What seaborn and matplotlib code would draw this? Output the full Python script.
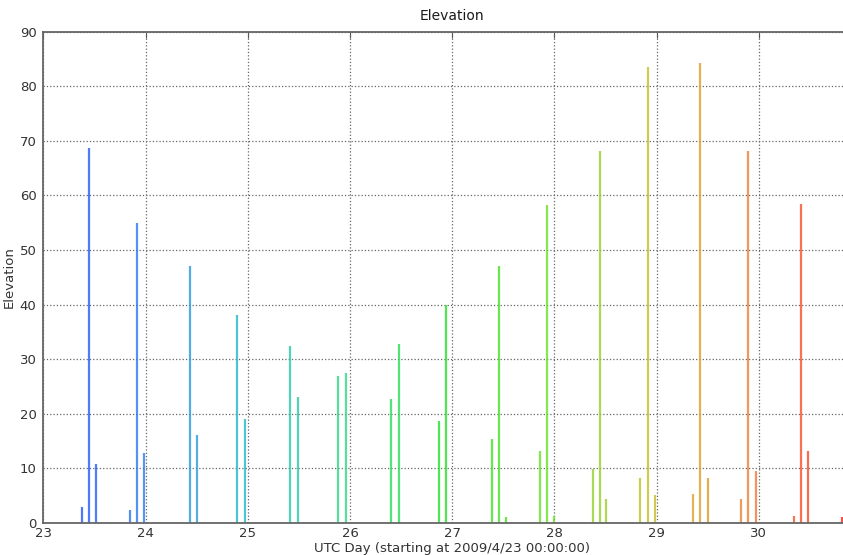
import matplotlib
matplotlib.use('Agg')
import numpy as np
import pandas as pd
import seaborn as sns
import matplotlib.pyplot as plt
from matplotlib.colors import LinearSegmentedColormap, Normalize

# pass peak times (UTC day of April 2009) and peak elevations
pass_day = [
    23.376, 23.447, 23.513, 23.845, 23.917, 23.988,
    24.435, 24.501, 24.898, 24.974,
    25.414, 25.489, 25.886, 25.959,
    26.402, 26.478, 26.872, 26.943,
    27.390, 27.459, 27.527, 27.857, 27.929, 27.997,
    28.376, 28.444, 28.509, 28.841, 28.914, 28.985,
    29.360, 29.429, 29.501, 29.830, 29.898, 29.974,
    30.345, 30.414, 30.482, 30.815,
]
pass_elev = [
    3.0, 68.6, 10.8, 2.4, 55.0, 12.8,
    47.1, 16.2, 38.0, 19.0,
    32.4, 23.1, 26.9, 27.4,
    22.7, 32.8, 18.7, 39.9,
    15.3, 47.1, 1.15, 13.1, 58.2, 1.3,
    9.8, 68.1, 4.45, 8.3, 83.6, 5.1,
    5.3, 84.2, 8.3, 4.3, 68.2, 9.6,
    1.35, 58.4, 13.1, 1.05,
]
x_ticks = [23, 24, 25, 26, 27, 28, 29, 30]
y_ticks = [0, 10, 20, 30, 40, 50, 60, 70, 80, 90]

df = pd.DataFrame({'day': pass_day, 'elevation': pass_elev})

sns.set_style('white')
plt.rcParams['font.family'] = ['DejaVu Sans']

fig = plt.figure(figsize=(8.43, 5.55), dpi=100)
ax = fig.add_axes([0.0514, 0.0577, 0.9699, 0.8854])

# rainbow running from blue (day 23) to red (day 31)
cmap = LinearSegmentedColormap.from_list('passes', [
    '#1840ff', '#2f7cf0', '#1fbcc4', '#2ed880', '#22e022',
    '#70e028', '#c8bc28', '#f07830', '#ff1818'])
norm = Normalize(vmin=23, vmax=31)
colors = [cmap(norm(d)) for d in df['day']]

ax.vlines(df['day'], 0, df['elevation'], colors=colors, linewidth=1.6, alpha=0.8)

ax.set_xlim(23, 31)
ax.set_ylim(0, 90)
ax.set_xticks(x_ticks)
ax.set_yticks(y_ticks)
ax.grid(True, color='0.4', linestyle=':', linewidth=0.9)
ax.tick_params(direction='in', top=True, right=True, length=4, width=0.8,
               labelsize=9.5, labelcolor='0.2', color='0.35')
ax.tick_params(axis='y', pad=5)
ax.tick_params(axis='x', pad=3)
for s in ax.spines.values():
    s.set_color('0.4')
    s.set_linewidth(1.3)

ax.set_title('Elevation', fontsize=10, color='0.1', pad=8)
ax.set_xlabel('UTC Day (starting at 2009/4/23 00:00:00)', fontsize=9.5, color='0.2', labelpad=1)
ax.set_ylabel('Elevation', fontsize=9.5, color='0.2', labelpad=3)

fig.savefig('out.png', dpi=100)
